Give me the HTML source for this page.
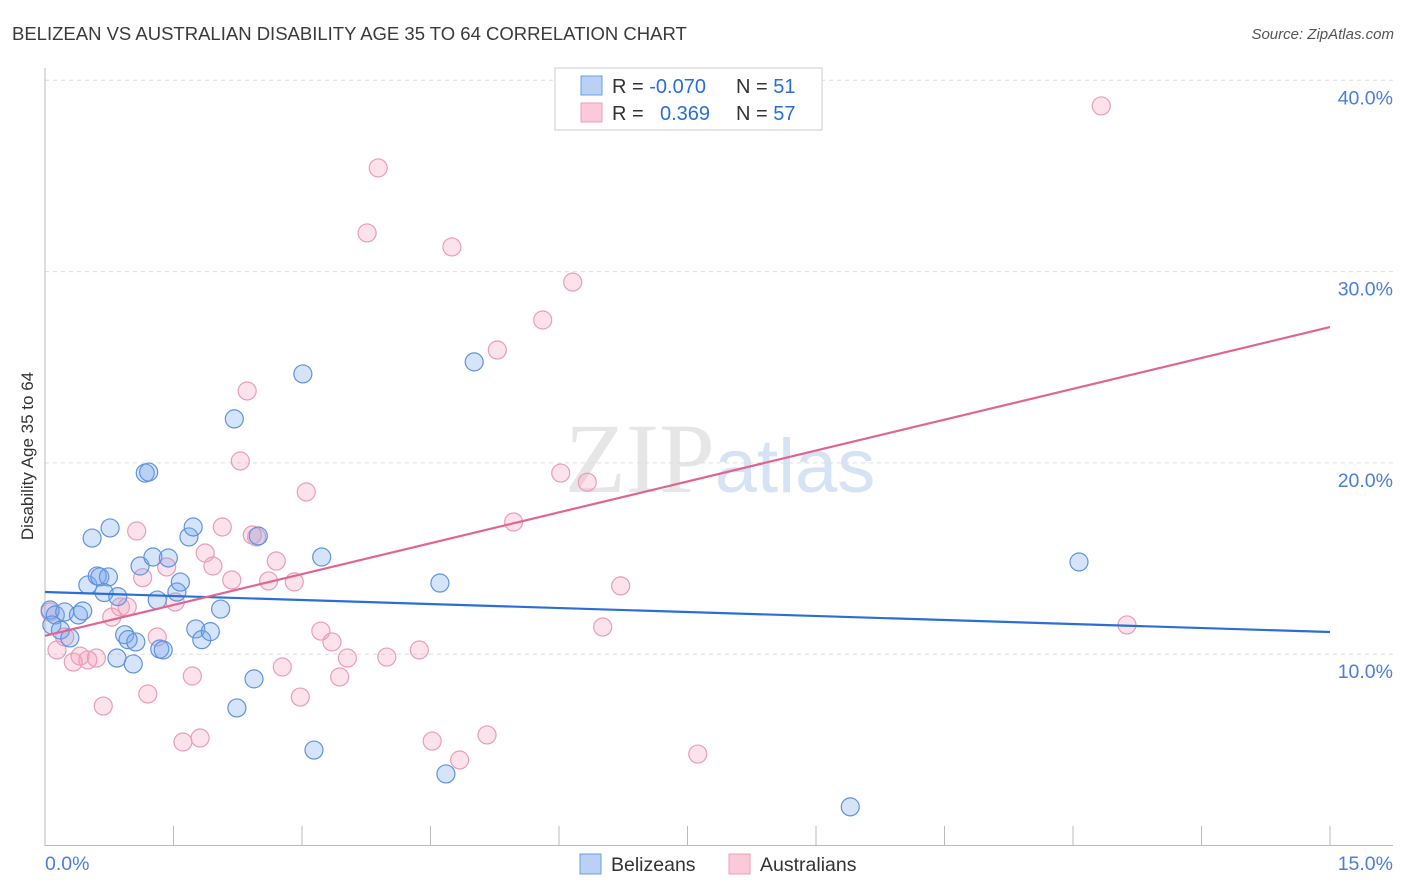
<!DOCTYPE html>
<html><head><meta charset="utf-8"><style>
body{margin:0;background:#fff;font-family:"Liberation Sans",sans-serif;}
svg{display:block}
</style></head><body>
<svg id="chart" width="1406" height="892" viewBox="0 0 1406 892" font-family="Liberation Sans, sans-serif">
<text x="12" y="40" font-size="18.5" fill="#3a3a3a">BELIZEAN VS AUSTRALIAN DISABILITY AGE 35 TO 64 CORRELATION CHART</text>
<text x="1394" y="39" font-size="15" fill="#555" font-style="italic" text-anchor="end">Source: ZipAtlas.com</text>
<text x="720" y="492" font-size="100" fill="#e6e6e6" text-anchor="middle" font-family="Liberation Serif, serif">ZIP<tspan fill="#d5e3f5" font-family="Liberation Sans, sans-serif" font-size="76">atlas</tspan></text>
<g id="grid"></g>
<g id="axes"></g>
<g id="marks"></g>
<text transform="translate(33,456) rotate(-90)" font-size="17" fill="#333" text-anchor="middle">Disability Age 35 to 64</text>
<g>
<rect x="555" y="68" width="267" height="62" fill="#fff" stroke="#ccc"/>
<rect x="581" y="76" width="21" height="19" fill="#b8d1f5" stroke="#6d9de0"/>
<rect x="581" y="103" width="21" height="19" fill="#fcc9d9" stroke="#eba0ba"/>
<text x="612" y="93" font-size="20" fill="#333">R = <tspan fill="#2a6fd6">-0.070</tspan></text>
<text x="736" y="93" font-size="20" fill="#333">N = <tspan fill="#2a6fd6"> 51</tspan></text>
<text x="612" y="120" font-size="20" fill="#333">R = <tspan fill="#2a6fd6" x="660">0.369</tspan></text>
<text x="736" y="120" font-size="20" fill="#333">N = <tspan fill="#2a6fd6"> 57</tspan></text>
</g>
<g>
<rect x="580" y="854" width="21" height="20" fill="#b8d1f5" stroke="#6d9de0"/>
<text x="611" y="871" font-size="19.5" fill="#333">Belizeans</text>
<rect x="729" y="854" width="21" height="20" fill="#fcc9d9" stroke="#eba0ba"/>
<text x="760" y="871" font-size="19.5" fill="#333">Australians</text>
</g>
</svg>
<script>
const blueX=[0.06,0.12,0.08,0.18,0.23,0.29,0.39,0.44,0.50,0.55,0.61,0.64,0.74,0.76,0.69,0.85,0.93,0.97,1.06,0.84,1.03,1.11,1.17,1.21,1.26,1.31,1.34,1.38,1.44,1.54,1.58,1.68,1.73,1.76,1.83,1.93,2.05,2.21,2.24,2.44,2.49,3.01,3.14,3.23,4.61,4.68,5.01,9.40,12.07];
const blueY=[12.31,12.05,11.53,11.26,12.21,10.85,12.05,12.26,13.62,16.07,14.09,14.04,14.04,16.60,13.22,13.01,11.02,10.76,10.64,9.80,9.49,14.61,19.47,19.52,15.08,12.83,10.27,10.22,15.03,13.25,13.77,16.13,16.65,11.32,10.76,11.18,12.36,22.30,7.19,8.71,16.18,24.65,4.99,15.08,13.72,3.74,25.28,2.02,14.82];
const pinkX=[0.06,0.14,0.23,0.33,0.41,0.50,0.60,0.68,0.78,0.88,0.96,1.07,1.14,1.20,1.31,1.42,1.52,1.61,1.72,1.81,1.87,1.96,2.07,2.18,2.28,2.36,2.42,2.47,2.61,2.70,2.77,2.91,2.98,3.05,3.22,3.35,3.44,3.53,3.76,3.89,3.99,4.37,4.52,4.75,4.84,5.16,5.28,5.47,5.81,6.02,6.16,6.33,6.51,6.72,7.62,12.33,12.63];
const pinkY=[12.21,10.22,10.90,9.59,9.90,9.70,9.80,7.29,11.94,12.47,12.47,16.44,14.00,7.92,10.90,14.56,12.73,5.41,8.86,5.62,15.29,14.61,16.65,13.88,20.10,23.76,16.23,16.13,13.83,14.87,9.33,13.78,7.76,18.48,11.21,10.64,8.81,9.80,32.02,35.42,9.85,10.22,5.46,31.29,4.47,5.78,25.90,16.91,27.47,19.47,29.45,18.99,11.42,13.57,4.78,38.66,11.53];
const trendBlue=[13.25,11.16];
const trendPink=[10.96,27.1];
const xTicks=[0,1.5,3,4.5,6,7.5,9,10.5,12,13.5,15];
const yTicks=[10,20,30,40];
const yTickLabels=["10.0%","20.0%","30.0%","40.0%"];
const xAxisLabels=["0.0%","15.0%"];

const NS="http://www.w3.org/2000/svg";
const X0=45,X1=1330,YB=845.5,PPY=19.13;
const sx=v=>X0+(v/15)*(X1-X0);
const sy=v=>YB-v*PPY;
function mk(tag,attrs,parent){const e=document.createElementNS(NS,tag);for(const k in attrs)e.setAttribute(k,attrs[k]);parent.appendChild(e);return e;}
const grid=document.getElementById('grid'),axes=document.getElementById('axes'),marks=document.getElementById('marks');
yTicks.forEach((t,i)=>{
  const l=mk('line',{x1:X0,x2:1393,y1:sy(t),y2:sy(t),stroke:'#ddd','stroke-dasharray':'4,4'},grid);
  
  
  const tx=mk('text',{x:1393,y:sy(t)+24,'font-size':19.5,fill:'#4a7fd8','text-anchor':'end'},axes);
  tx.textContent=yTickLabels[i];
  
  
});
const ya=mk('line',{x1:X0,x2:X0,y1:68,y2:846,stroke:'#bbb'},axes);


const xa=mk('line',{x1:X0,x2:1393,y1:845.5,y2:845.5,stroke:'#bbb'},axes);


xTicks.forEach(t=>{
  const l=mk('line',{x1:sx(t),x2:sx(t),y1:826,y2:846,stroke:'#bbb'},axes);
  
  
});
const xl0=mk('text',{x:45,y:870,'font-size':19.5,fill:'#4a7fd8'},axes);xl0.textContent=xAxisLabels[0];


const xl1=mk('text',{x:1393,y:870,'font-size':19.5,fill:'#4a7fd8','text-anchor':'end'},axes);xl1.textContent=xAxisLabels[1];


function pts(xs,ys,fill,stroke,name){
  xs.forEach((x,i)=>{
    const c=mk('circle',{cx:sx(x),cy:sy(ys[i]),r:9,fill:fill,stroke:stroke,'stroke-width':1.2},marks);
    
    
  });
}
pts(pinkX,pinkY,'rgba(244,160,190,0.3)','#eb9cb8','australian-point');
pts(blueX,blueY,'rgba(120,165,235,0.3)','#5f93e0','belizean-point');
const tb=mk('line',{x1:sx(0),x2:sx(15),y1:sy(trendBlue[0]),y2:sy(trendBlue[1]),stroke:'#2a6fd6','stroke-width':2.2},marks);


const tp=mk('line',{x1:sx(0),x2:sx(15),y1:sy(trendPink[0]),y2:sy(trendPink[1]),stroke:'#e0668f','stroke-width':2.2},marks);


</script>
</body></html>
